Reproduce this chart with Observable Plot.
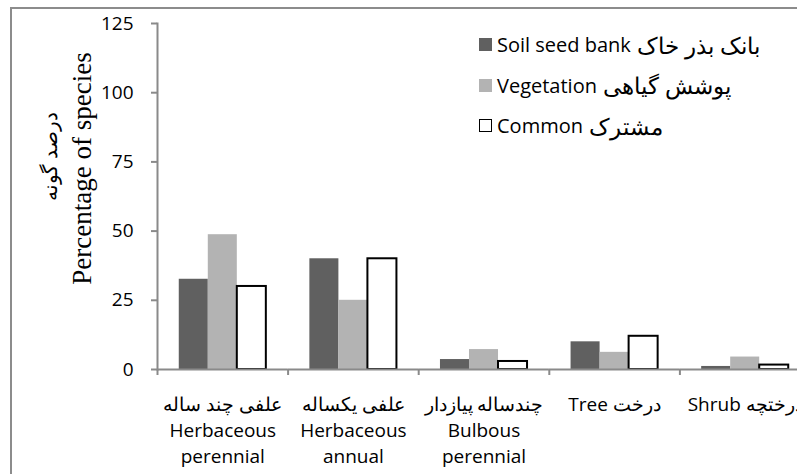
<!DOCTYPE html>
<html>
<head>
<meta charset="utf-8">
<script src="https://cdn.jsdelivr.net/npm/d3@7"></script>
<script src="https://cdn.jsdelivr.net/npm/@observablehq/plot@0.6"></script>
<style>
html, body { margin: 0; padding: 0; overflow: hidden; background: #fff; width: 797px; height: 474px; }
#wrap { position: relative; width: 797px; height: 474px; overflow: hidden; }
#chart { position: absolute; left: 0; top: 0; width: 812px; }
#frame { position: absolute; left: 10px; top: 7px; width: 900px; height: 600px; border: 2px solid #8c8c8c; box-sizing: border-box; pointer-events: none; }
#legend { position: absolute; left: 479px; top: 0; font-family: "Open Sans", sans-serif; font-size: 20px; color: #000; }
.row { position: absolute; left: 0; display: flex; align-items: center; white-space: nowrap; height: 30px; }
.sw { width: 13px; height: 13px; margin-right: 5px; box-sizing: border-box; flex: none; }
.fa { font-size: 23px; margin-left: 6px; }
</style>
</head>
<body>
<div id="wrap">
  <div id="chart"></div>
  <div id="frame"></div>
  <div id="legend"></div>
</div>
<script>
// ---- data ----
const categoryLabels = [
  "علفی چند ساله\nHerbaceous\nperennial",
  "علفی یکساله\nHerbaceous\nannual",
  "چندساله پیازدار\nBulbous\nperennial",
  "Tree درخت",
  "Shrub درختچه"
];
const seriesEn = ["Soil seed bank", "Vegetation", "Common"];
const seriesFa = ["بانک بذر خاک", "پوشش گیاهی", "مشترک"];
const soilSeedBank = [32.6, 40, 3.6, 10, 1.1];
const vegetation   = [48.7, 25, 7.2, 6.2, 4.5];
const common       = [30, 40, 2.9, 12, 1.6];
const yTicks = [0, 25, 50, 75, 100, 125];
const yTitleEn = "Percentage of species";
const yTitleFa = "درصد گونه";

// ---- style ----
const seriesColors = ["#606060", "#b3b3b3", "#ffffff"];
const AXIS = "#8a8a8a";
const FONT = '"Open Sans", sans-serif';
const W = 812, H = 474, ML = 157, MR = 2, MT = 23, MB = 105;
const bw = (W - ML - MR) / categoryLabels.length;

const valuesBySeries = [soilSeedBank, vegetation, common];
const data = categoryLabels.flatMap((cat, i) =>
  seriesEn.map((s, j) => ({cat, series: s, value: valuesBySeries[j][i]}))
);
const filled = data.filter(d => d.series !== "Common");
const outlined = data.filter(d => d.series === "Common");

const chart = Plot.plot({
  width: W, height: H,
  marginLeft: ML, marginRight: MR, marginTop: MT, marginBottom: MB,
  style: {fontFamily: FONT, fontSize: "19px", color: "#000", background: "transparent", maxWidth: "none", overflow: "visible"},
  fx: {domain: categoryLabels, padding: 0, round: false},
  x: {domain: seriesEn, paddingInner: 0, paddingOuter: 0.75, round: false, axis: null},
  y: {domain: [0, 125]},
  color: {domain: seriesEn, range: seriesColors},
  marks: [
    Plot.barY(filled, {fx: "cat", x: "series", y: "value", fill: "series"}),
    Plot.barY(outlined, {fx: "cat", x: "series", y: "value", fill: "#fff", stroke: "#000", strokeWidth: 2}),
    Plot.ruleY([0], {stroke: AXIS, strokeWidth: 2}),
    Plot.frame({anchor: "left", stroke: AXIS, strokeWidth: 2, facetAnchor: "left"}),
    Plot.axisY({ticks: yTicks, tickSize: 6, tickPadding: 18, stroke: AXIS, strokeWidth: 2, label: null, fontSize: 19}),
    Plot.axisFx({anchor: "bottom", tickSize: 6, fill: "none", dx: -bw / 2, stroke: AXIS, strokeWidth: 2, label: null}),
    Plot.axisFx({anchor: "bottom", tickSize: 0, tickPadding: 23, lineHeight: 1.37, label: null, fontSize: 19}),
    Plot.text([yTitleEn], {fx: () => categoryLabels[0], text: d => d, frameAnchor: "left", textAnchor: "middle", lineAnchor: "middle", rotate: -90, dx: -75, dy: -28, fontFamily: '"Liberation Serif", serif', fontSize: 27}),
    Plot.text([yTitleFa], {fx: () => categoryLabels[0], text: d => d, frameAnchor: "left", textAnchor: "middle", lineAnchor: "middle", rotate: -90, dx: -107, dy: -40, fontFamily: FONT, fontSize: 20})
  ]
});
document.getElementById("chart").appendChild(chart);

// ---- legend ----
const legend = document.getElementById("legend");
seriesEn.forEach((s, i) => {
  const row = document.createElement("div");
  row.className = "row";
  row.style.top = (44.5 - 15 + i * 40.5) + "px";
  const sw = document.createElement("div");
  sw.className = "sw";
  sw.style.background = seriesColors[i];
  if (s === "Common") sw.style.border = "1.5px solid #000";
  const t = document.createElement("span");
  t.textContent = s;
  const f = document.createElement("span");
  f.className = "fa";
  f.textContent = seriesFa[i];
  row.appendChild(sw);
  row.appendChild(t);
  row.appendChild(f);
  legend.appendChild(row);
});
</script>
</body>
</html>
